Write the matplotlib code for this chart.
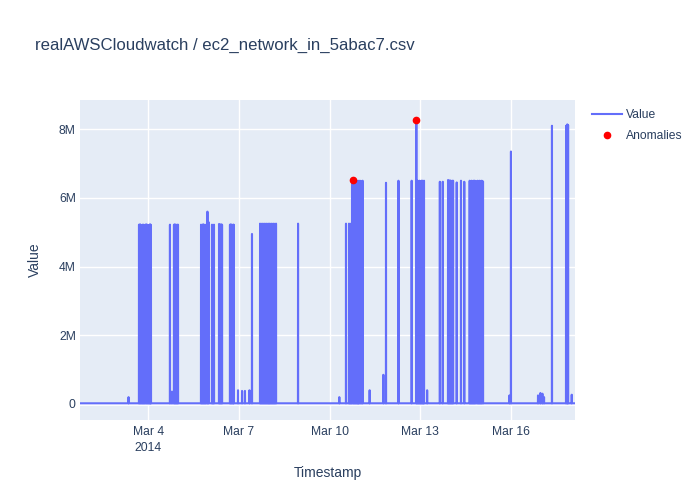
import pandas as pd
import matplotlib
matplotlib.use("Agg")
import matplotlib.pyplot as plt

# hours after 2014-03-04 00:00 where the series leaves the baseline, and peak values in millions
spike_hours = [
    -15.7,
    -7.4, -6.5, -5.6, -4.6, -3.7, -2.8, -1.8, -0.9, 0.0, 0.9, 1.6, 2.1,
    17.2, 18.8,
    20.4, 21.2, 22.0, 22.8, 23.6,
    41.9, 42.7, 43.5, 44.3, 45.1, 45.9, 47.0, 47.8,
    50.6, 51.4, 52.2,
    56.2, 57.0, 57.8, 58.6,
    64.9, 65.7, 66.5, 67.3, 67.9,
    71.3, 74.5, 76.8, 80.4, 82.4,
    88.8, 89.6, 90.4, 91.2, 92.0, 92.8, 93.6, 94.4, 95.2, 95.9, 96.6, 97.4, 98.2, 99.0, 99.8, 100.6, 101.5,
    119.0, 151.8, 157.1,
    159.5, 160.3, 161.1,
    161.9, 162.9, 163.7, 164.5, 165.3, 166.1, 166.7, 167.2,
    168.2, 169.2, 170.3,
    175.9, 186.8, 188.9, 198.8, 209.3, 213.0,
    213.8, 214.6, 215.4, 216.2, 217.0, 217.8, 218.5, 219.1,
    221.6, 231.7, 234.0,
    238.2, 239.0, 239.8, 240.6, 241.4, 242.2,
    245.1, 248.5, 251.1,
    255.4, 256.2, 257.0, 257.8, 258.6, 259.4, 260.4,
    261.8, 262.6, 263.4, 264.2, 265.0, 266.0,
    287.0, 288.2,
    309.7, 311.6, 313.2, 314.5,
    320.8, 332.0, 333.0, 333.6, 336.5,
]
spike_values_m = [
    0.2,
    5.22, 5.23, 5.21, 5.22, 5.22, 5.2, 5.23, 5.22, 5.21, 5.22, 5.23, 5.2,
    5.22, 0.36,
    5.22, 5.23, 5.21, 5.22, 5.22,
    5.22, 5.21, 5.23, 5.22, 5.2, 5.22, 5.6, 5.3,
    5.22, 5.2, 5.22,
    5.24, 5.22, 5.23, 5.22,
    5.22, 5.23, 5.21, 5.22, 5.22,
    0.4, 0.38, 0.38, 0.4, 4.95,
    5.25, 5.24, 5.25, 5.23, 5.25, 5.24, 5.25, 5.22, 5.25, 4.6, 5.25, 5.24, 5.25, 5.23, 5.25, 5.24, 5.25,
    5.25, 0.2, 5.25,
    5.25, 5.24, 5.25,
    6.5, 6.52, 6.5, 6.48, 6.5, 6.49, 6.5, 6.48,
    6.5, 6.48, 6.5,
    0.4, 0.85, 6.44, 6.5, 6.5, 8.28,
    6.5, 6.49, 6.5, 6.48, 6.5, 6.5, 6.49, 6.5,
    0.4, 6.47, 6.47,
    6.52, 6.5, 6.51, 6.49, 6.5, 6.5,
    6.45, 6.5, 6.47,
    6.5, 6.49, 6.5, 6.48, 6.5, 6.5, 6.49,
    6.5, 6.48, 6.5, 6.49, 6.5, 6.48,
    0.25, 7.35,
    0.25, 0.32, 0.3, 0.2,
    8.1, 8.1, 8.14, 8.12, 0.27,
]
baseline_value = 20000

series_start = "2014-03-01 17:43"
series_end = "2014-03-18 03:06"
hour_zero = pd.Timestamp("2014-03-04 00:00")

anomaly_hours = [162.9, 213.0]
anomaly_values_m = [6.52, 8.28]

tick_dates = ["2014-03-04", "2014-03-07", "2014-03-10", "2014-03-13", "2014-03-16"]
tick_labels = ["Mar 4\n2014", "Mar 7", "Mar 10", "Mar 13", "Mar 16"]
ytick_values = [0, 2e6, 4e6, 6e6, 8e6]
ytick_labels = ["0", "2M", "4M", "6M", "8M"]

# build the line: baseline, then up to each peak and back down again
step = pd.Timedelta(minutes=5)
xs = [pd.Timestamp(series_start)]
ys = [baseline_value]
for h, v in zip(spike_hours, spike_values_m):
    t = hour_zero + pd.Timedelta(hours=h)
    xs += [t - step, t, t + step]
    ys += [baseline_value, v * 1e6, baseline_value]
xs.append(pd.Timestamp(series_end))
ys.append(baseline_value)

ax_x = [hour_zero + pd.Timedelta(hours=h) for h in anomaly_hours]
ax_y = [v * 1e6 for v in anomaly_values_m]

plt.rcParams["font.family"] = ["Liberation Sans", "DejaVu Sans"]
text_color = "#2a3f5f"

fig = plt.figure(figsize=(7, 5), dpi=100)
ax = fig.add_axes([80 / 700, 80 / 500, 495 / 700, 320 / 500])
ax.set_facecolor("#E5ECF6")
for s in ax.spines.values():
    s.set_visible(False)

ax.plot(xs, ys, color="#636EFA", lw=1.5, label="Value", zorder=3)
ax.plot(ax_x, ax_y, "o", color="red", ms=4.5, label="Anomalies", zorder=4, ls="none")

ax.set_xlim(pd.Timestamp(series_start), pd.Timestamp(series_end))
ax.set_ylim(-0.466e6, 8.85e6)

ax.set_xticks(pd.to_datetime(tick_dates))
ax.set_xticklabels(tick_labels, linespacing=1.45)
ax.set_yticks(ytick_values)
ax.set_yticklabels(ytick_labels)
ax.tick_params(length=0, labelsize=8.7, labelcolor=text_color)
ax.tick_params(axis="x", pad=4)
ax.tick_params(axis="y", pad=3)
ax.grid(color="white", lw=1)
ax.axhline(0, color="white", lw=2, zorder=1)
ax.set_axisbelow(True)

ax.set_xlabel("Timestamp", fontsize=10, color=text_color, labelpad=9)
ax.set_ylabel("Value", fontsize=10, color=text_color, labelpad=12)

fig.text(35 / 700, 1 - 45 / 500, "realAWSCloudwatch / ec2_network_in_5abac7.csv",
         fontsize=12.1, color=text_color, va="center", ha="left")

leg = ax.legend(loc="upper left", bbox_to_anchor=(587 / 700, 1 - 104 / 500),
                bbox_transform=fig.transFigure, frameon=False, fontsize=8.7,
                handlelength=2.5, handletextpad=0.35, labelspacing=0.75, borderaxespad=0)
for t in leg.get_texts():
    t.set_color(text_color)

fig.savefig("out.png", dpi=100)
